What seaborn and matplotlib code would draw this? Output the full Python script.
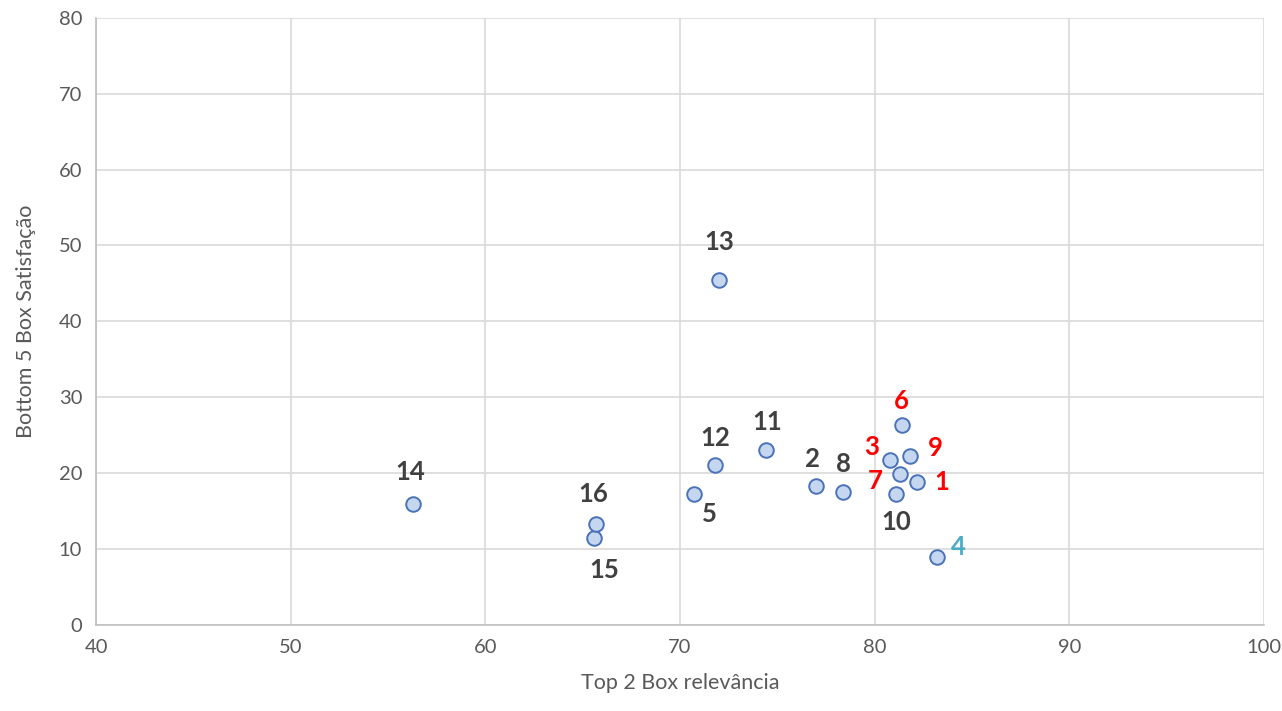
import matplotlib
matplotlib.use("Agg")
import matplotlib.pyplot as plt
import seaborn as sns
import pandas as pd

# --- data ---
labels = ["1", "2", "3", "4", "5", "6", "7", "8", "9", "10", "11", "12", "13", "14", "15", "16"]
relevancia = [82.2, 77.0, 80.8, 83.2, 70.7, 81.4, 81.3, 78.4, 81.8, 81.1, 74.4, 71.8, 72.0, 56.3, 65.6, 65.7]
satisfacao = [18.9, 18.3, 21.7, 8.9, 17.2, 26.3, 19.9, 17.5, 22.3, 17.2, 23.0, 21.1, 45.5, 16.0, 11.4, 13.3]
label_colors = ["#ff0000", "#404040", "#ff0000", "#4bacc6", "#404040", "#ff0000", "#ff0000", "#404040",
                "#ff0000", "#404040", "#404040", "#404040", "#404040", "#404040", "#404040", "#404040"]
# label offsets (pixels) relative to the point
label_offsets = [(24, 0), (-4, 27), (-19, 13), (21, 10), (16, -20), (0, 24), (-25, -7), (0, 28),
                 (26, 8), (0, -28), (2, 28), (0, 27), (0, 38), (-3, 32), (10, -32), (-3, 30)]

df = pd.DataFrame({"x": relevancia, "y": satisfacao, "label": labels})

sns.set_style("white")
plt.rcParams["font.family"] = ["Lato", "DejaVu Sans"]

fig = plt.figure(figsize=(12.82, 7.11), dpi=100)
ax = fig.add_axes([0.0749, 0.121, 0.911, 0.854])

sns.scatterplot(data=df, x="x", y="y", ax=ax, s=110, color="#c5d7f0",
                edgecolor="#4a72b8", linewidth=1.4, zorder=3)

for i, lab in enumerate(labels):
    ax.annotate(lab, (relevancia[i], satisfacao[i]), xytext=label_offsets[i],
                textcoords="offset pixels", ha="center", va="center",
                fontsize=18.5, fontweight="bold", color=label_colors[i], zorder=4)

ax.set_xlim(40, 100)
ax.set_ylim(0, 80)
ax.set_xticks(range(40, 101, 10))
ax.set_yticks(range(0, 81, 10))
ax.grid(True, color="#d9d9d9", linewidth=1.2)
ax.set_axisbelow(True)
for side in ["top", "right"]:
    ax.spines[side].set_visible(False)
for side in ["left", "bottom"]:
    ax.spines[side].set_color("#bfbfbf")
    ax.spines[side].set_linewidth(1.2)
ax.tick_params(axis="both", length=0, labelsize=14.5, labelcolor="#595959", pad=10)
ax.set_xlabel("Top 2 Box relevância", fontsize=15.5, color="#595959", labelpad=12)
ax.set_ylabel("Bottom 5 Box Satisfação", fontsize=15.5, color="#595959", labelpad=16)

fig.savefig("out.png", dpi=100)
